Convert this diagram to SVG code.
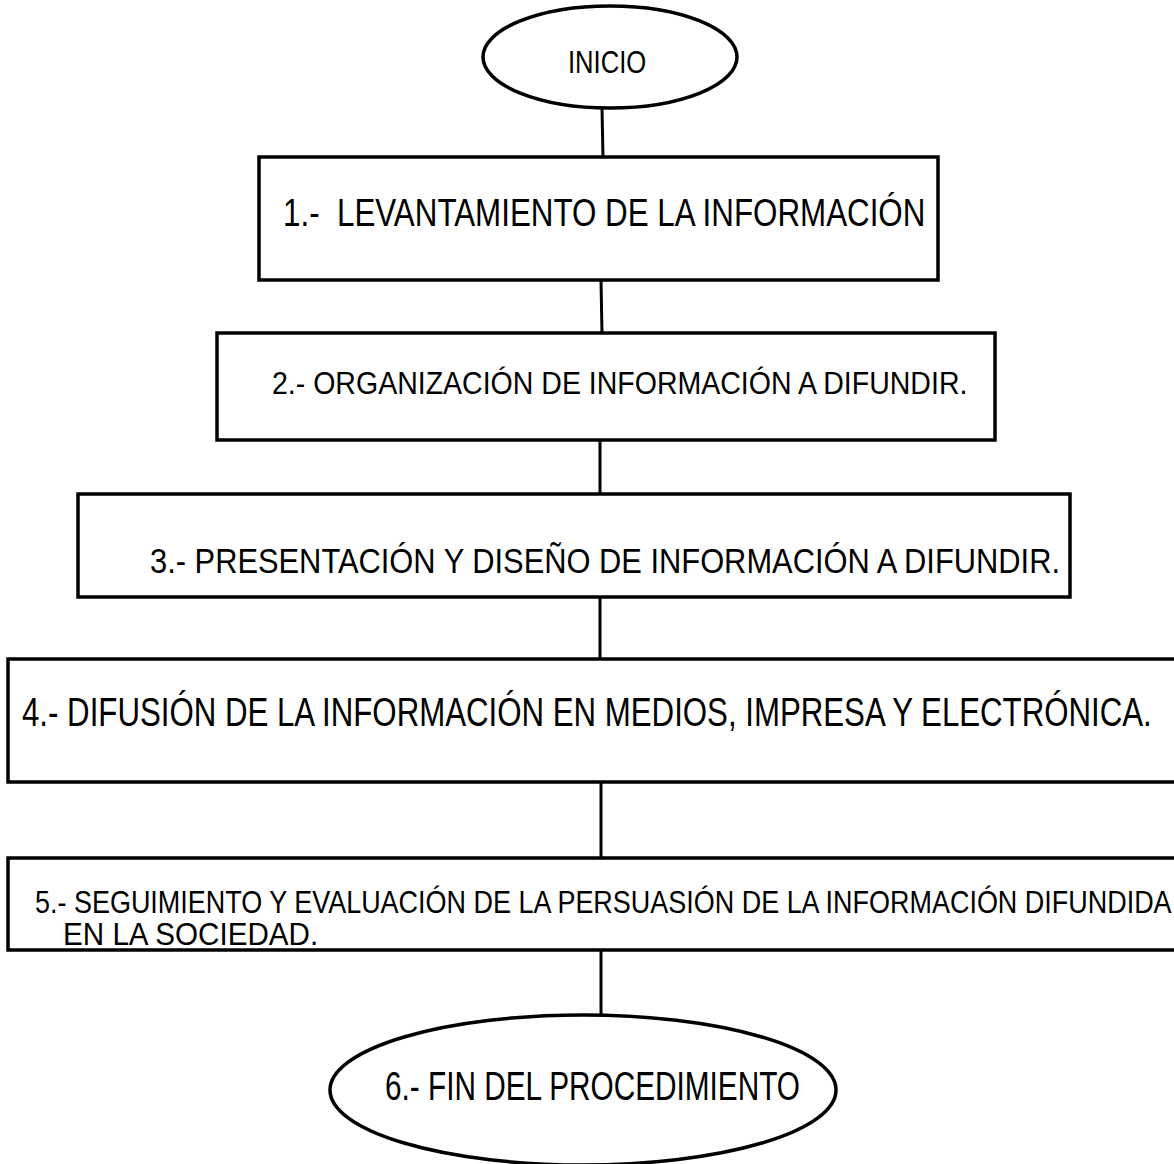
<svg xmlns="http://www.w3.org/2000/svg" width="1174" height="1164" viewBox="0 0 1174 1164">
<style>
.shape{fill:#fff;stroke:#000;stroke-width:3.5}
.conn{stroke:#000;stroke-width:3;fill:none}
.t{font-family:"Liberation Sans","Arial",sans-serif;fill:#000;white-space:pre}
</style>
<rect width="1174" height="1164" fill="#fff"/>
<g id="connectors">
<line class="conn" x1="602" y1="108" x2="603" y2="158"/>
<line class="conn" x1="601" y1="280" x2="602" y2="333"/>
<line class="conn" x1="600" y1="440" x2="600" y2="494"/>
<line class="conn" x1="600" y1="597" x2="600" y2="659"/>
<line class="conn" x1="601" y1="782" x2="601" y2="858"/>
<line class="conn" x1="601" y1="950" x2="601" y2="1016"/>
</g>
<g id="inicio">
<ellipse class="shape" cx="610" cy="57" rx="127" ry="51"/>
<text class="t" transform="translate(568,73) scale(0.798,1)" font-size="32" textLength="98" lengthAdjust="spacingAndGlyphs">INICIO</text>
</g>
<g id="step1">
<rect class="shape" x="259" y="157" width="679" height="123"/>
<text class="t" transform="translate(283,226) scale(0.795,1)" font-size="39" textLength="808" lengthAdjust="spacingAndGlyphs">1.-  LEVANTAMIENTO DE LA INFORMACIÓN</text>
</g>
<g id="step2">
<rect class="shape" x="217" y="333" width="778" height="107"/>
<text class="t" transform="translate(272,394) scale(0.915,1)" font-size="31" textLength="760" lengthAdjust="spacingAndGlyphs">2.- ORGANIZACIÓN DE INFORMACIÓN A DIFUNDIR.</text>
</g>
<g id="step3">
<rect class="shape" x="78" y="494" width="992" height="103"/>
<text class="t" transform="translate(150,573) scale(0.875,1)" font-size="35" textLength="1040" lengthAdjust="spacingAndGlyphs">3.- PRESENTACIÓN Y DISEÑO DE INFORMACIÓN A DIFUNDIR.</text>
</g>
<g id="step4">
<rect class="shape" x="8" y="659" width="1180" height="123"/>
<text class="t" transform="translate(22,726) scale(0.777,1)" font-size="40" textLength="1454" lengthAdjust="spacingAndGlyphs">4.- DIFUSIÓN DE LA INFORMACIÓN EN MEDIOS, IMPRESA Y ELECTRÓNICA.</text>
</g>
<g id="step5">
<rect class="shape" x="8" y="858" width="1180" height="92"/>
<text class="t" transform="translate(35,913) scale(0.865,1)" font-size="31" textLength="1314" lengthAdjust="spacingAndGlyphs">5.- SEGUIMIENTO Y EVALUACIÓN DE LA PERSUASIÓN DE LA INFORMACIÓN DIFUNDIDA</text>
<text class="t" transform="translate(63,945) scale(0.865,1)" font-size="31" textLength="295" lengthAdjust="spacingAndGlyphs">EN LA SOCIEDAD.</text>
</g>
<g id="fin">
<ellipse class="shape" cx="583" cy="1090" rx="253" ry="75"/>
<text class="t" transform="translate(385,1100) scale(0.741,1)" font-size="40" textLength="560" lengthAdjust="spacingAndGlyphs">6.- FIN DEL PROCEDIMIENTO</text>
</g>
</svg>
